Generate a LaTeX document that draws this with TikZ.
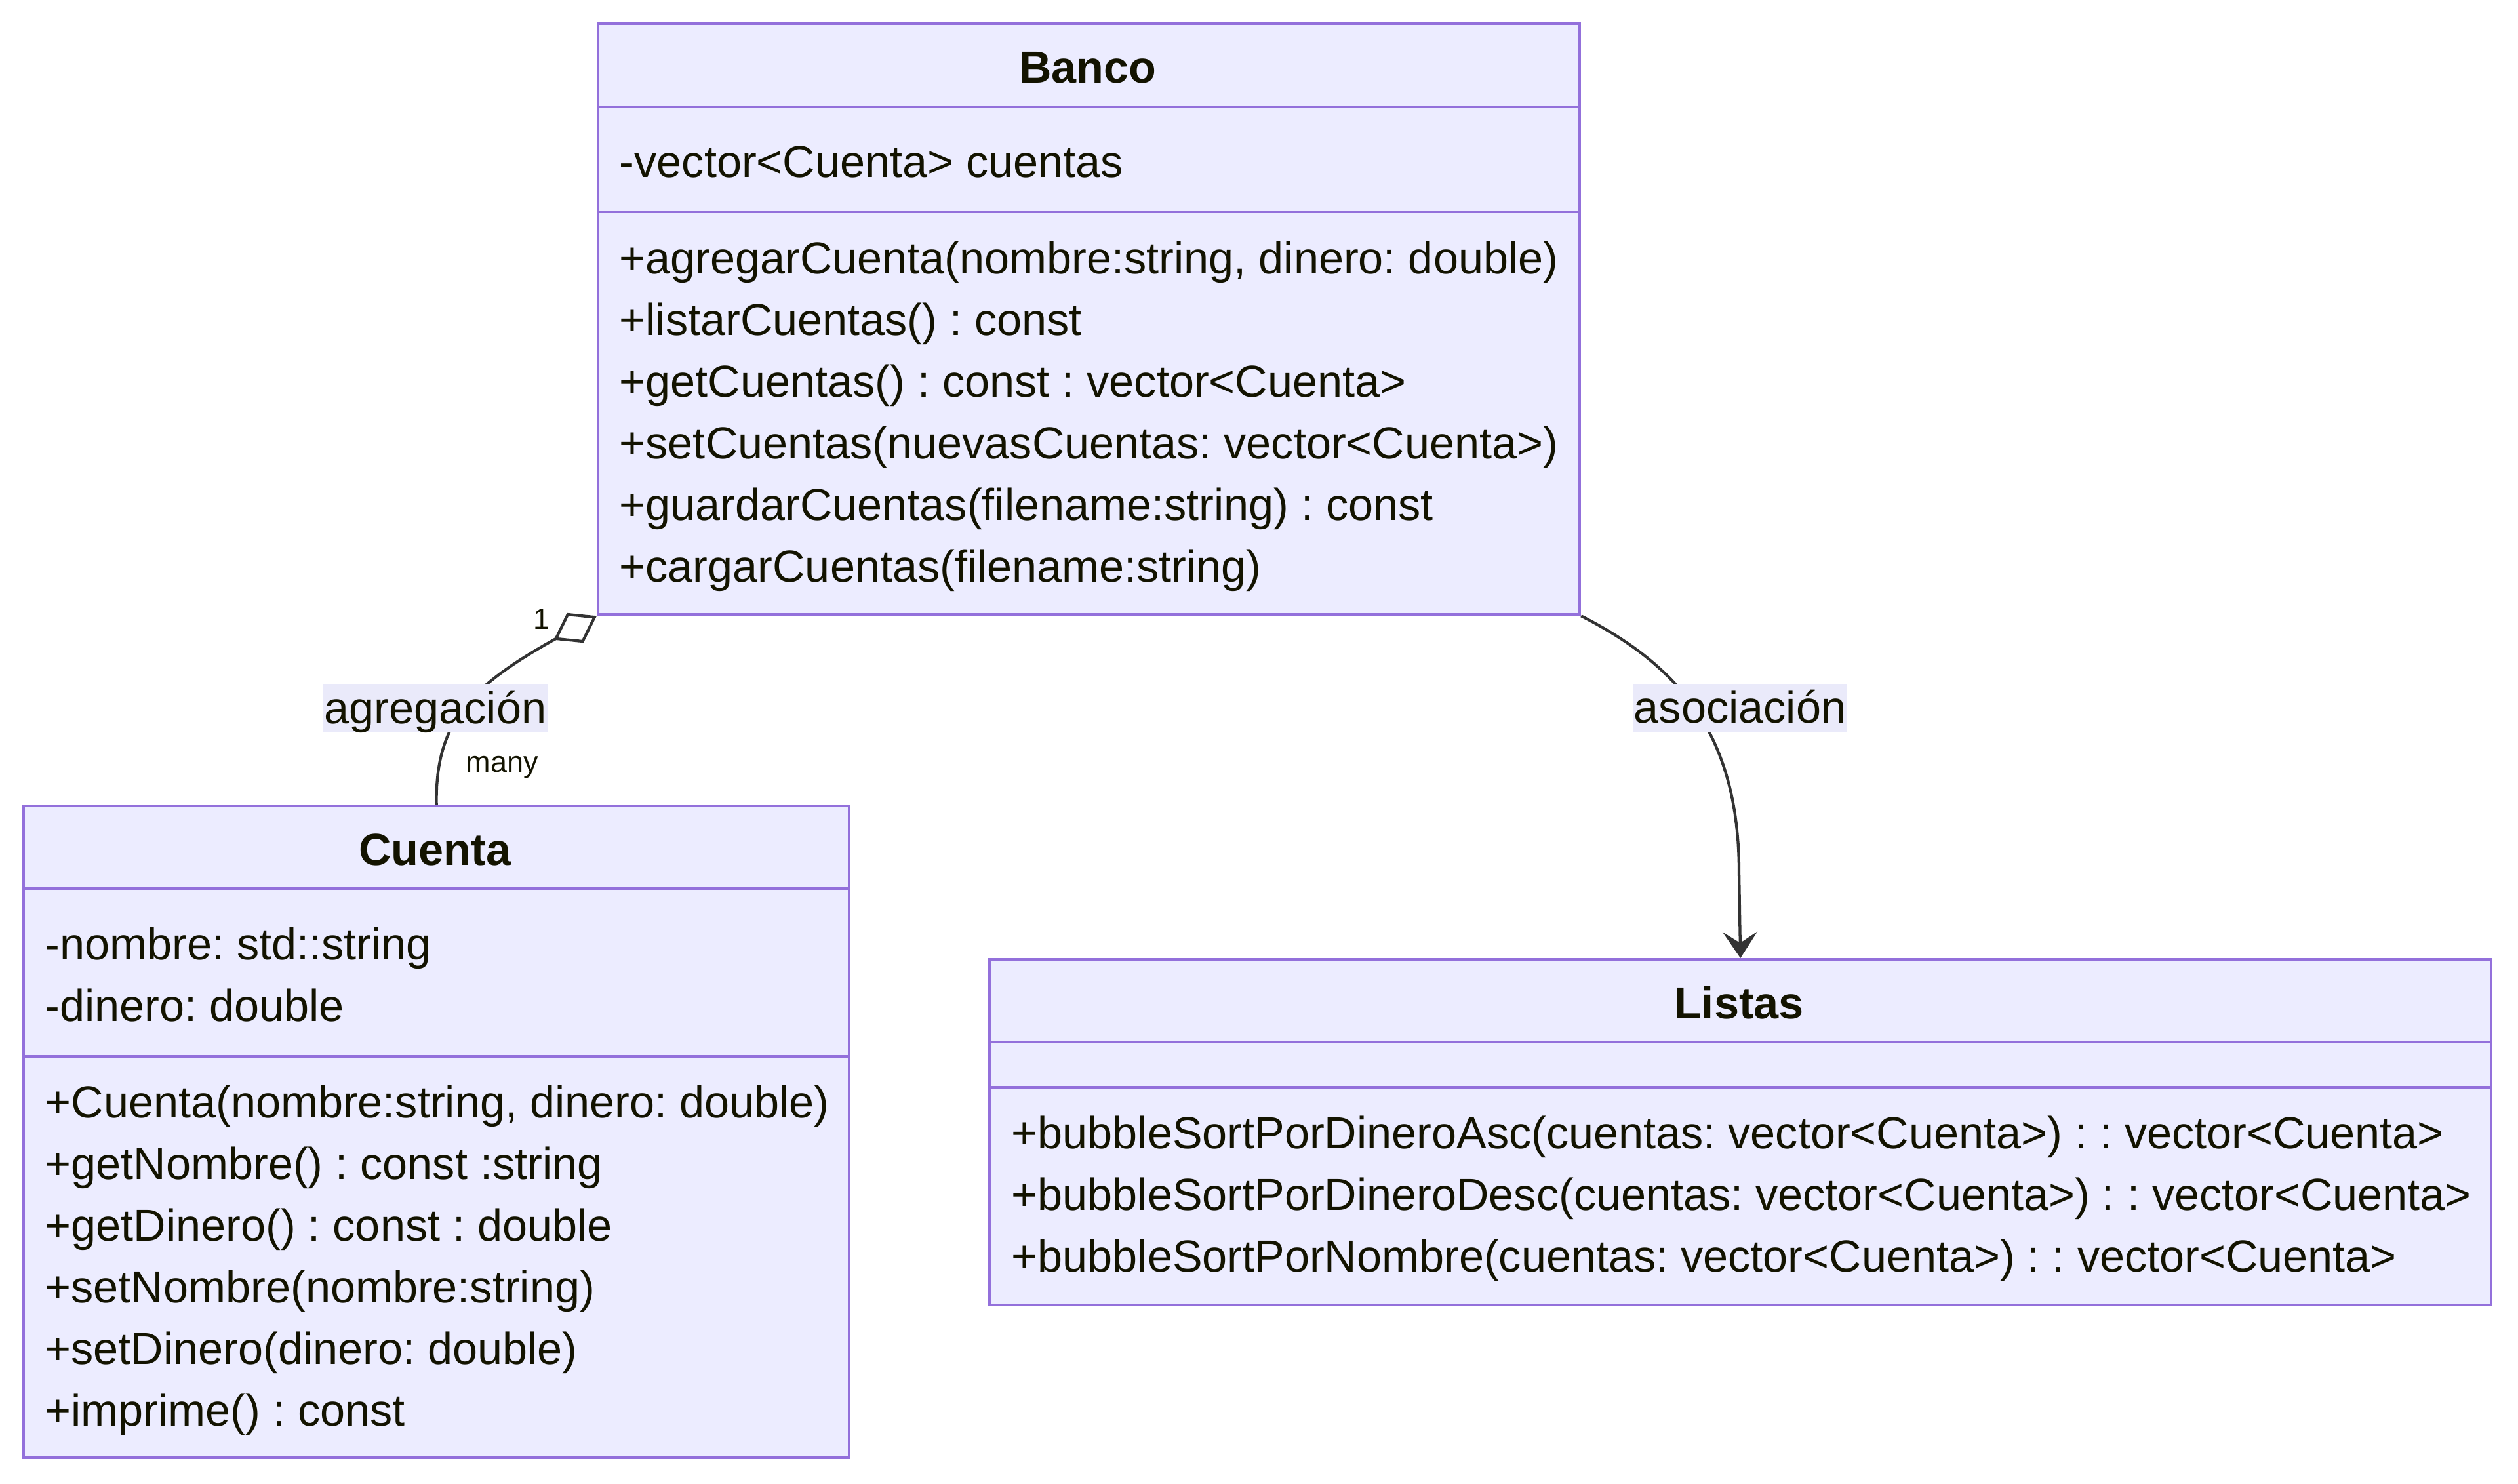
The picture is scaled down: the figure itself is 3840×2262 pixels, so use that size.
\documentclass[tikz,border=0pt]{standalone}
\usepackage{fontspec}
\setmainfont{Liberation Sans}
\usetikzlibrary{arrows.meta}
\definecolor{boxfill}{HTML}{ECECFF}
\definecolor{boxline}{HTML}{9370DB}
\definecolor{txt}{HTML}{131300}
\definecolor{edgecol}{HTML}{333333}
\definecolor{lblbg}{HTML}{EAEAFA}
\frenchspacing
\begin{document}
\begin{tikzpicture}[x=0.25pt,y=-0.25pt,
  classbox/.style={draw=boxline, fill=boxfill, line width=1.07pt, inner sep=0, anchor=north west},
  divider/.style={draw=boxline, line width=1.07pt},
  member/.style={anchor=base west, inner sep=0, text=txt, font=\fontsize{17.1}{20}\selectfont},
  classtitle/.style={anchor=base, inner sep=0, text=txt, font=\fontsize{17.1}{20}\selectfont\bfseries},
  rel/.style={draw=edgecol, line width=1.07pt},
  edgelabel/.style={fill=lblbg, inner xsep=0.5pt, inner ysep=0, text height=15pt, text depth=3.25pt, text=txt, font=\fontsize{17.1}{20}\selectfont},
  mult/.style={inner sep=0, text=txt, font=\fontsize{11.25}{13}\selectfont}]
\useasboundingbox (0,0) rectangle (3840,2262);

% ---------- Banco ----------
\node[classbox, minimum width=374.25pt, minimum height=225.25pt] (banco) at (910,34) {};
\draw[divider] (banco.north west |- 0,163) -- (banco.north east |- 0,163);
\draw[divider] (banco.north west |- 0,323) -- (banco.north east |- 0,323);
\node[classtitle] (bancot) at (1658.5,126) {Banco};
\node[member] (ba1) at (944,270) {-vector<Cuenta> cuentas};
\node[member] (bm1) at (944,417) {+agregarCuenta(nombre:string, dinero: double)};
\node[member] (bm2) at (944,511) {+listarCuentas() : const};
\node[member] (bm3) at (944,605) {+getCuentas() : const : vector<Cuenta>};
\node[member] (bm4) at (944,699) {+setCuentas(nuevasCuentas: vector<Cuenta>)};
\node[member] (bm5) at (944,793) {+guardarCuentas(filename:string) : const};
\node[member] (bm6) at (944,887) {+cargarCuentas(filename:string)};

% ---------- Cuenta ----------
\node[classbox, minimum width=314.75pt, minimum height=248.5pt] (cuenta) at (34,1227) {};
\draw[divider] (cuenta.north west |- 0,1355) -- (cuenta.north east |- 0,1355);
\draw[divider] (cuenta.north west |- 0,1611) -- (cuenta.north east |- 0,1611);
\node[classtitle] (cuentat) at (663.5,1319) {Cuenta};
\node[member] (ca1) at (68,1463) {-nombre: std::string};
\node[member] (ca2) at (68,1557) {-dinero: double};
\node[member] (cm1) at (68,1704) {+Cuenta(nombre:string, dinero: double)};
\node[member] (cm2) at (68,1798) {+getNombre() : const :string};
\node[member] (cm3) at (68,1892) {+getDinero() : const : double};
\node[member] (cm4) at (68,1986) {+setNombre(nombre:string)};
\node[member] (cm5) at (68,2080) {+setDinero(dinero: double)};
\node[member] (cm6) at (68,2174) {+imprime() : const};

% ---------- Listas ----------
\node[classbox, minimum width=572.5pt, minimum height=131.75pt] (listas) at (1507,1461) {};
\draw[divider] (listas.north west |- 0,1589) -- (listas.north east |- 0,1589);
\draw[divider] (listas.north west |- 0,1658) -- (listas.north east |- 0,1658);
\node[classtitle] (listast) at (2652,1553) {Listas};
\node[member] (lm1) at (1542,1751) {+bubbleSortPorDineroAsc(cuentas: vector<Cuenta>) : : vector<Cuenta>};
\node[member] (lm2) at (1542,1845) {+bubbleSortPorDineroDesc(cuentas: vector<Cuenta>) : : vector<Cuenta>};
\node[member] (lm3) at (1542,1939) {+bubbleSortPorNombre(cuentas: vector<Cuenta>) : : vector<Cuenta>};

% ---------- Relations ----------
\draw[rel, {Diamond[open, length=18.75pt, width=13pt]}-] (banco.south west) .. controls (720,1045) and (663,1100) .. (cuenta.north);
\draw[rel, -{Stealth[length=10pt, width=13.25pt, inset=4.25pt]}] (banco.south east) .. controls (2560,1015) and (2652,1120) .. (2652,1330) -- (listas.north);

\node[edgelabel] (lagg) at (664,1079.5) {agregación};
\node[edgelabel] (lasoc) at (2653.5,1079) {asociación};
\node[mult] (mone) at (826,944) {1};
\node[mult, anchor=base] (mmany) at (766,1177) {many};
\end{tikzpicture}
\end{document}
